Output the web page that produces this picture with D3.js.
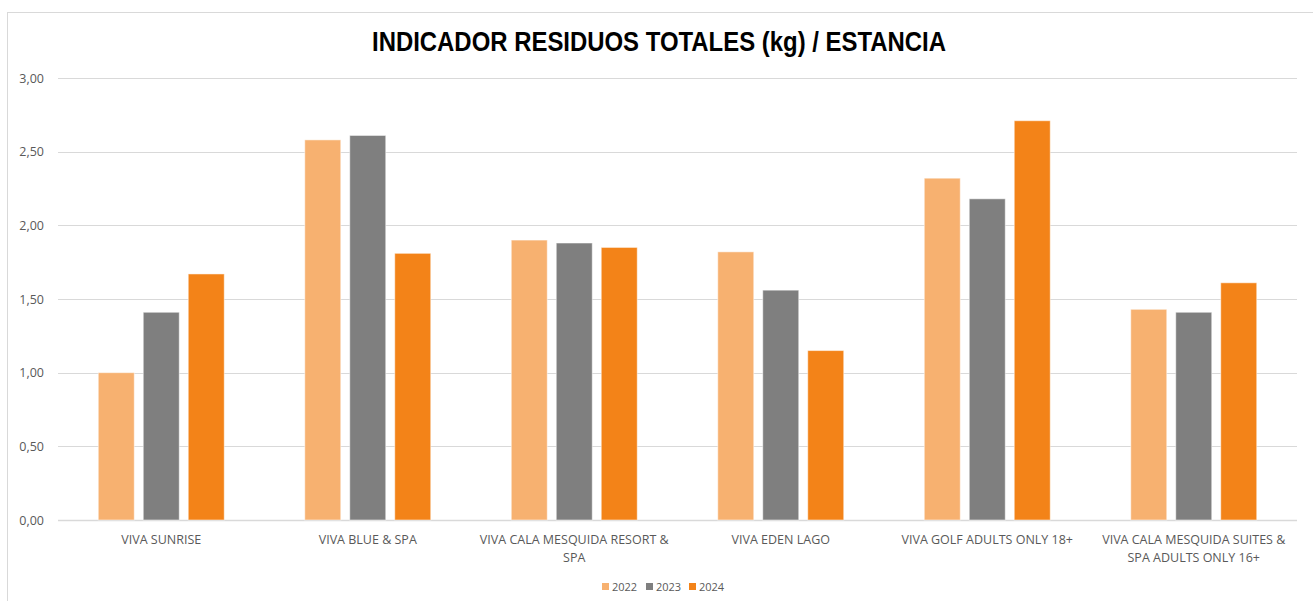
<!DOCTYPE html>
<html>
<head>
<meta charset="utf-8">
<script src="https://cdn.jsdelivr.net/npm/d3@7"></script>
<style>
  body { margin: 0; background: #fff; }
  text { font-family: "Open Sans", "Noto Sans", sans-serif; }
</style>
</head>
<body>
<div id="chart"></div>
<script>
(function(){

  let width = 1313;
  let height = 601;

  // data
  const categories = [
    "VIVA SUNRISE",
    "VIVA BLUE & SPA",
    "VIVA CALA MESQUIDA RESORT & SPA",
    "VIVA EDEN LAGO",
    "VIVA GOLF ADULTS ONLY 18+",
    "VIVA CALA MESQUIDA SUITES & SPA ADULTS ONLY 16+"
  ];
  const years = ["2022", "2023", "2024"];
  const values2022 = [1.00, 2.58, 1.90, 1.82, 2.32, 1.43];
  const values2023 = [1.41, 2.61, 1.88, 1.56, 2.18, 1.41];
  const values2024 = [1.67, 1.81, 1.85, 1.15, 2.71, 1.61];
  const yTicks = [0, 0.5, 1, 1.5, 2, 2.5, 3];
  const colors = ["#F7B170", "#7F7F7F", "#F38318"];

  const seriesByYear = [values2022, values2023, values2024];

  let svg = d3.select('#chart')
            .append("svg")
            .attr("width", width)
            .attr("height", height);

  // outer chart border
  svg.append("rect")
    .attr("x", 7.5).attr("y", 12.5)
    .attr("width", 1320).attr("height", 620)
    .attr("fill", "#fff")
    .attr("stroke", "#D9D9D9");

  // title
  svg.append("text")
    .attr("x", 659).attr("y", 51)
    .attr("text-anchor", "middle")
    .style("font-family", "'Liberation Sans Narrow', 'Liberation Sans', Arial, sans-serif")
    .style("font-weight", "bold")
    .style("font-size", "27px")
    .attr("fill", "#000")
    .attr("textLength", 574)
    .attr("lengthAdjust", "spacingAndGlyphs")
    .text("INDICADOR RESIDUOS TOTALES (kg) / ESTANCIA");

  let x0 = d3.scaleBand().domain(categories).range([58, 1297])
    .paddingInner(0.39).paddingOuter(0.195);
  let x1 = d3.scaleBand().domain(years).range([0, x0.bandwidth()]).paddingInner(0.2);
  let y = d3.scaleLinear().domain([0, 3]).range([520, 78]);

  // gridlines
  svg.append("g").selectAll("line")
    .data(yTicks)
    .enter().append("line")
    .attr("x1", 58).attr("x2", 1297)
    .attr("y1", d => Math.round(y(d)) + 0.5)
    .attr("y2", d => Math.round(y(d)) + 0.5)
    .attr("stroke", "#D9D9D9")
    .attr("stroke-width", d => d === 0 ? 1.5 : 1);

  // y labels
  svg.append("g").selectAll("text")
    .data(yTicks)
    .enter().append("text")
    .attr("x", 44)
    .attr("y", d => y(d) + 4.5)
    .attr("text-anchor", "end")
    .style("font-size", "12.5px")
    .attr("fill", "#595959")
    .text(d => d.toFixed(2).replace(".", ","));

  // bars
  let rows = categories.map((c, i) => ({
    cat: c,
    vals: years.map((yr, j) => ({ year: yr, idx: j, value: seriesByYear[j][i] }))
  }));

  let groups = svg.append("g").selectAll("g")
    .data(rows)
    .enter().append("g")
    .attr("transform", d => "translate(" + x0(d.cat) + ",0)");

  groups.selectAll("rect")
    .data(d => d.vals)
    .enter().append("rect")
    .attr("x", d => x1(d.year))
    .attr("y", d => y(d.value))
    .attr("width", x1.bandwidth())
    .attr("height", d => y(0) - y(d.value))
    .attr("fill", d => colors[d.idx])
    .attr("stroke", "#fff")
    .attr("stroke-opacity", 0.5)
    .attr("stroke-width", 1);

  // category labels, wrapped
  let labels = svg.append("g").selectAll("text")
    .data(categories)
    .enter().append("text")
    .attr("text-anchor", "middle")
    .style("font-size", "12.5px")
    .attr("fill", "#595959")
    .attr("x", d => x0(d) + x0.bandwidth() / 2)
    .attr("y", 544);

  labels.each(function(d){
    let el = d3.select(this);
    let words = d.split(" ");
    let line = [];
    let tspan = el.append("tspan").attr("x", x0(d) + x0.bandwidth() / 2).attr("dy", 0);
    words.forEach(function(w){
      line.push(w);
      tspan.text(line.join(" "));
      if (tspan.node().getComputedTextLength() > 202 && line.length > 1) {
        line.pop();
        tspan.text(line.join(" "));
        line = [w];
        tspan = el.append("tspan").attr("x", x0(d) + x0.bandwidth() / 2)
          .attr("dy", 18).text(w);
      }
    });
  });

  // legend
  let legendX = [602, 646, 689];
  let legend = svg.append("g").selectAll("g")
    .data(years)
    .enter().append("g")
    .attr("transform", (d, i) => "translate(" + legendX[i] + ",583)");

  legend.append("rect")
    .attr("width", 7).attr("height", 7)
    .attr("fill", (d, i) => colors[i]);

  legend.append("text")
    .attr("x", 10).attr("y", 8)
    .style("font-size", "11px")
    .attr("fill", "#595959")
    .text(d => d);

})();
</script>
</body>
</html>
